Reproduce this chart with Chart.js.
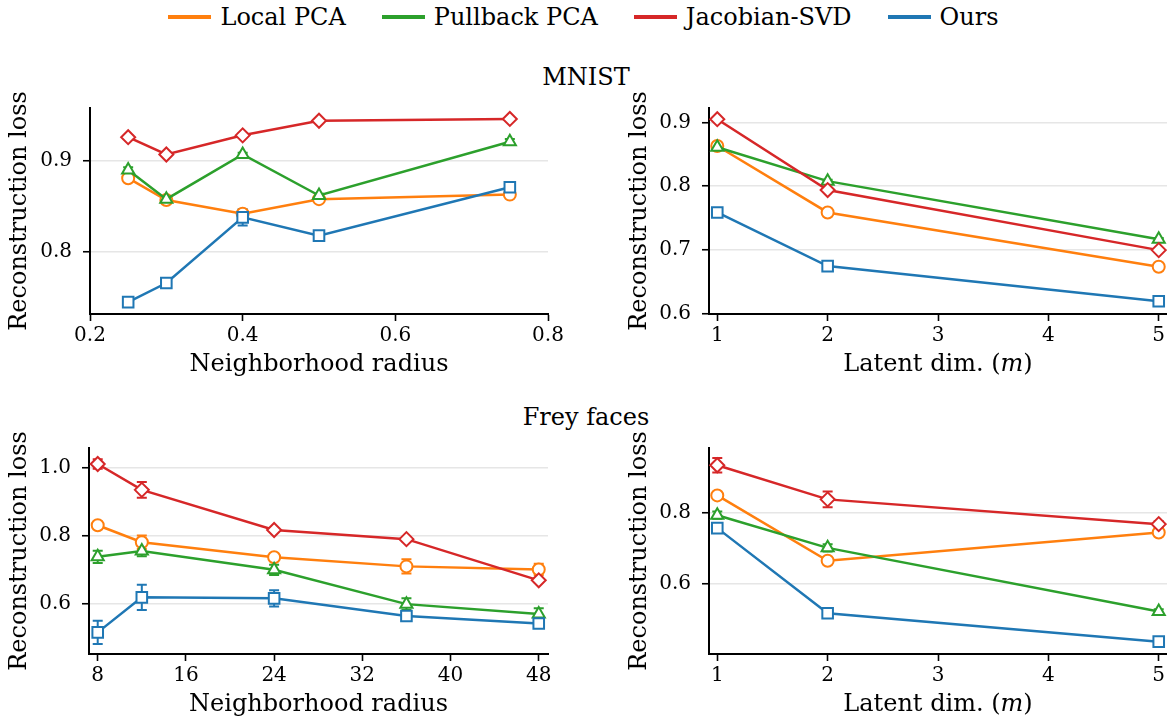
<!DOCTYPE html>
<html>
<head>
<meta charset="utf-8">
<script src="https://cdn.jsdelivr.net/npm/chart.js@4.4.1/dist/chart.umd.min.js"></script>
<style>
  html, body { margin: 0; padding: 0; background: #fff; }
  body { width: 1167px; height: 717px; overflow: hidden; position: relative; font-family: "DejaVu Serif", serif; color: #000; }
  canvas { position: absolute; }
  #legend { position: absolute; left: 0; top: 3px; width: 1167px; display: flex; justify-content: center; align-items: center; font-size: 24px; line-height: 28px; }
  .item { display: flex; align-items: center; margin: 0 18px; }
  .swatch { width: 43px; height: 4px; margin-right: 9px; }
  .rowTitle { position: absolute; left: 0; width: 1172px; text-align: center; font-size: 24px; line-height: 24px; }
</style>
</head>
<body>
<div id="legend"></div>
<div class="rowTitle" style="top:65px">MNIST</div>
<div class="rowTitle" style="top:405px">Frey faces</div>
<script>
// ---- series ----
const seriesNames = ['Local PCA', 'Pullback PCA', 'Jacobian-SVD', 'Ours'];

// ---- x values ----
const radiusMnist = [0.25, 0.3, 0.4, 0.5, 0.75];
const radiusFrey = [8, 12, 24, 36, 48];
const latentDims = [1, 2, 5];

// ---- tick labels ----
const ticksRadiusMnistX = [0.2, 0.4, 0.6, 0.8];
const ticksRadiusMnistY = [0.8, 0.9];
const ticksLatentX = [1, 2, 3, 4, 5];
const ticksLatentMnistY = [0.6, 0.7, 0.8, 0.9];
const ticksRadiusFreyX = [8, 16, 24, 32, 40, 48];
const ticksRadiusFreyY = [0.6, 0.8, 1.0];
const ticksLatentFreyY = [0.6, 0.8];

// ---- MNIST, loss vs neighborhood radius ----
const mnistRadiusLocalPca     = [0.881, 0.857, 0.842, 0.858, 0.863];
const mnistRadiusPullbackPca  = [0.890, 0.858, 0.907, 0.862, 0.921];
const mnistRadiusJacobianSvd  = [0.926, 0.907, 0.928, 0.944, 0.946];
const mnistRadiusOurs         = [0.745, 0.766, 0.838, 0.818, 0.871];
const mnistRadiusLocalPcaErr    = [0.003, 0.002, 0.004, 0.002, 0.002];
const mnistRadiusPullbackPcaErr = [0.003, 0.003, 0.002, 0.002, 0.003];
const mnistRadiusJacobianSvdErr = [0.002, 0.002, 0.002, 0.002, 0.002];
const mnistRadiusOursErr        = [0.002, 0.004, 0.009, 0.003, 0.003];

// ---- MNIST, loss vs latent dimension ----
const mnistLatentLocalPca     = [0.863, 0.759, 0.674];
const mnistLatentPullbackPca  = [0.861, 0.808, 0.717];
const mnistLatentJacobianSvd  = [0.905, 0.794, 0.700];
const mnistLatentOurs         = [0.759, 0.675, 0.620];
const mnistLatentLocalPcaErr    = [0.002, 0.002, 0.002];
const mnistLatentPullbackPcaErr = [0.002, 0.002, 0.002];
const mnistLatentJacobianSvdErr = [0.002, 0.002, 0.002];
const mnistLatentOursErr        = [0.002, 0.002, 0.002];

// ---- Frey faces, loss vs neighborhood radius ----
const freyRadiusLocalPca     = [0.831, 0.781, 0.737, 0.710, 0.701];
const freyRadiusPullbackPca  = [0.738, 0.755, 0.700, 0.599, 0.570];
const freyRadiusJacobianSvd  = [1.011, 0.935, 0.817, 0.790, 0.669];
const freyRadiusOurs         = [0.516, 0.619, 0.616, 0.564, 0.542];
const freyRadiusLocalPcaErr    = [0.004, 0.020, 0.008, 0.021, 0.017];
const freyRadiusPullbackPcaErr = [0.018, 0.015, 0.015, 0.017, 0.017];
const freyRadiusJacobianSvdErr = [0.014, 0.023, 0.006, 0.006, 0.006];
const freyRadiusOursErr        = [0.034, 0.037, 0.024, 0.012, 0.010];

// ---- Frey faces, loss vs latent dimension ----
const freyLatentLocalPca     = [0.847, 0.665, 0.744];
const freyLatentPullbackPca  = [0.792, 0.701, 0.524];
const freyLatentJacobianSvd  = [0.931, 0.836, 0.767];
const freyLatentOurs         = [0.756, 0.519, 0.440];
const freyLatentLocalPcaErr    = [0.005, 0.006, 0.006];
const freyLatentPullbackPcaErr = [0.010, 0.010, 0.006];
const freyLatentJacobianSvdErr = [0.020, 0.022, 0.008];
const freyLatentOursErr        = [0.006, 0.004, 0.004];

// ---- styling ----
const FONT = '"DejaVu Serif", serif';
const COLORS = ['#ff7f0e', '#2ca02c', '#d62728', '#1f77b4'];
const MARKERS = ['circle', 'triangle', 'rectRot', 'rect'];
const MARKER_RADII = [6, 7, 7, 7.5];

// legend row
const legend = document.getElementById('legend');
seriesNames.forEach((name, i) => {
  const item = document.createElement('div');
  item.className = 'item';
  const sw = document.createElement('div');
  sw.className = 'swatch';
  sw.style.background = COLORS[i];
  const label = document.createElement('span');
  label.textContent = name;
  item.appendChild(sw);
  item.appendChild(label);
  legend.appendChild(item);
});

// vertical error bars with caps, drawn under the lines and markers
const errorBars = {
  id: 'errorBars',
  beforeDatasetsDraw(chart) {
    const { ctx } = chart;
    const yScale = chart.scales.y;
    ctx.save();
    chart.data.datasets.forEach((ds, i) => {
      const meta = chart.getDatasetMeta(i);
      ctx.strokeStyle = ds.borderColor;
      ctx.lineWidth = 2;
      meta.data.forEach((pt, j) => {
        const v = ds.data[j].y;
        const e = ds.errors[j];
        if (!e) return;
        const y1 = yScale.getPixelForValue(v - e);
        const y2 = yScale.getPixelForValue(v + e);
        ctx.beginPath();
        ctx.moveTo(pt.x, y1); ctx.lineTo(pt.x, y2);
        ctx.moveTo(pt.x - 5, y1); ctx.lineTo(pt.x + 5, y1);
        ctx.moveTo(pt.x - 5, y2); ctx.lineTo(pt.x + 5, y2);
        ctx.stroke();
      });
    });
    ctx.restore();
  }
};

// axis titles: rotated y title (may run past the plot height) and an
// x title that can mix upright and italic runs, e.g. "Latent dim. (m)"
const axisTitles = {
  id: 'axisTitles',
  afterDraw(chart, args, opts) {
    const { ctx, chartArea } = chart;
    ctx.save();
    ctx.fillStyle = '#000';
    ctx.textBaseline = 'middle';

    // y title
    ctx.font = opts.size + 'px ' + FONT;
    ctx.textAlign = 'center';
    ctx.translate(opts.yTitleX, (chartArea.top + chartArea.bottom) / 2);
    ctx.rotate(-Math.PI / 2);
    ctx.fillText(opts.yTitle, 0, 0);
    ctx.setTransform(1, 0, 0, 1, 0, 0);

    // x title
    ctx.textAlign = 'left';
    const fonts = opts.xParts.map(p => (p.italic ? 'italic ' : '') + opts.size + 'px ' + FONT);
    let total = 0;
    const widths = opts.xParts.map((p, k) => { ctx.font = fonts[k]; const w = ctx.measureText(p.text).width; total += w; return w; });
    let x = (chartArea.left + chartArea.right) / 2 - total / 2;
    const y = chartArea.bottom + opts.xTitleOffset;
    opts.xParts.forEach((p, k) => { ctx.font = fonts[k]; ctx.fillText(p.text, x, y); x += widths[k]; });
    ctx.restore();
  }
};

function makePanel(p) {
  const canvas = document.createElement('canvas');
  canvas.width = p.width;
  canvas.height = p.height;
  canvas.style.left = p.left + 'px';
  canvas.style.top = p.top + 'px';
  canvas.style.width = p.width + 'px';
  canvas.style.height = p.height + 'px';
  document.body.appendChild(canvas);

  const datasets = p.series.map((vals, i) => ({
    label: seriesNames[i],
    data: vals.map((v, j) => ({ x: p.xs[j], y: v })),
    errors: p.errors[i],
    borderColor: COLORS[i],
    backgroundColor: COLORS[i],
    borderWidth: 2.5,
    pointStyle: MARKERS[i],
    pointRadius: MARKER_RADII[i],
    pointBorderWidth: 2,
    pointBackgroundColor: '#fff',
    pointBorderColor: COLORS[i],
    tension: 0,
    clip: false,
    order: 3 - i
  }));

  const tickFont = { family: FONT, size: 20 };

  new Chart(canvas, {
    type: 'line',
    data: { datasets },
    plugins: [errorBars, axisTitles],
    options: {
      responsive: false,
      animation: false,
      devicePixelRatio: 1,
      layout: { autoPadding: false, padding: { left: 0, top: p.padTop, right: p.padRight, bottom: 0 } },
      plugins: {
        legend: { display: false },
        tooltip: { enabled: false },
        axisTitles: { size: 24, yTitle: 'Reconstruction loss', yTitleX: p.yTitleX,
                      xParts: p.xTitle, xTitleOffset: 51 }
      },
      scales: {
        x: {
          type: 'linear',
          min: p.xMin, max: p.xMax,
          afterBuildTicks: s => { s.ticks = p.xTicks.map(v => ({ value: v })); },
          afterFit: s => { s.height = p.xAxisHeight; s.paddingLeft = 0; s.paddingRight = 0; },
          ticks: { font: tickFont, color: '#000', padding: 3, maxRotation: 0, autoSkip: false,
                   callback: v => p.xFmt(v) },
          grid: { drawOnChartArea: false, tickColor: '#000', tickLength: 7, tickWidth: 1.6 },
          border: { color: '#000', width: 2 }
        },
        y: {
          type: 'linear',
          min: p.yMin, max: p.yMax,
          afterBuildTicks: s => { s.ticks = p.yTicks.map(v => ({ value: v })); },
          afterFit: s => { s.width = p.yAxisWidth; s.paddingTop = 0; s.paddingBottom = 0; },
          ticks: { font: tickFont, color: '#000', padding: 11, autoSkip: false,
                   callback: v => v.toFixed(1) },
          grid: { color: '#e6e6e6', lineWidth: 1.5, tickColor: '#000', tickLength: 7, tickWidth: 1.6 },
          border: { color: '#000', width: 2 }
        }
      }
    }
  });
}

const radiusTitle = [{ text: 'Neighborhood radius' }];
const latentTitle = [{ text: 'Latent dim. (' }, { text: 'm', italic: true }, { text: ')' }];
const fmt1 = v => v.toFixed(1);
const fmtInt = v => String(v);

// MNIST, radius
makePanel({
  left: 0, top: 85, width: 580, height: 315, padTop: 23, padRight: 32,
  yAxisWidth: 90, xAxisHeight: 86, yTitleX: 20,
  xs: radiusMnist,
  series: [mnistRadiusLocalPca, mnistRadiusPullbackPca, mnistRadiusJacobianSvd, mnistRadiusOurs],
  errors: [mnistRadiusLocalPcaErr, mnistRadiusPullbackPcaErr, mnistRadiusJacobianSvdErr, mnistRadiusOursErr],
  xMin: 0.2, xMax: 0.8, yMin: 0.732, yMax: 0.958,
  xTicks: ticksRadiusMnistX, yTicks: ticksRadiusMnistY, xFmt: fmt1,
  xTitle: radiusTitle
});

// MNIST, latent dimension
makePanel({
  left: 600, top: 85, width: 567, height: 315, padTop: 23, padRight: 0,
  yAxisWidth: 109, xAxisHeight: 86, yTitleX: 40,
  xs: latentDims,
  series: [mnistLatentLocalPca, mnistLatentPullbackPca, mnistLatentJacobianSvd, mnistLatentOurs],
  errors: [mnistLatentLocalPcaErr, mnistLatentPullbackPcaErr, mnistLatentJacobianSvdErr, mnistLatentOursErr],
  xMin: 0.925, xMax: 5.075, yMin: 0.6, yMax: 0.9225,
  xTicks: ticksLatentX, yTicks: ticksLatentMnistY, xFmt: fmtInt,
  xTitle: latentTitle
});

// Frey faces, radius
makePanel({
  left: 0, top: 425, width: 580, height: 315, padTop: 23, padRight: 32,
  yAxisWidth: 89, xAxisHeight: 86, yTitleX: 20,
  xs: radiusFrey,
  series: [freyRadiusLocalPca, freyRadiusPullbackPca, freyRadiusJacobianSvd, freyRadiusOurs],
  errors: [freyRadiusLocalPcaErr, freyRadiusPullbackPcaErr, freyRadiusJacobianSvdErr, freyRadiusOursErr],
  xMin: 7.21, xMax: 48.84, yMin: 0.4524, yMax: 1.058,
  xTicks: ticksRadiusFreyX, yTicks: ticksRadiusFreyY, xFmt: fmtInt,
  xTitle: radiusTitle
});

// Frey faces, latent dimension
makePanel({
  left: 600, top: 425, width: 567, height: 315, padTop: 23, padRight: 0,
  yAxisWidth: 109, xAxisHeight: 86, yTitleX: 40,
  xs: latentDims,
  series: [freyLatentLocalPca, freyLatentPullbackPca, freyLatentJacobianSvd, freyLatentOurs],
  errors: [freyLatentLocalPcaErr, freyLatentPullbackPcaErr, freyLatentJacobianSvdErr, freyLatentOursErr],
  xMin: 0.925, xMax: 5.075, yMin: 0.4056, yMax: 0.979,
  xTicks: ticksLatentX, yTicks: ticksLatentFreyY, xFmt: fmtInt,
  xTitle: latentTitle
});
</script>
</body>
</html>
